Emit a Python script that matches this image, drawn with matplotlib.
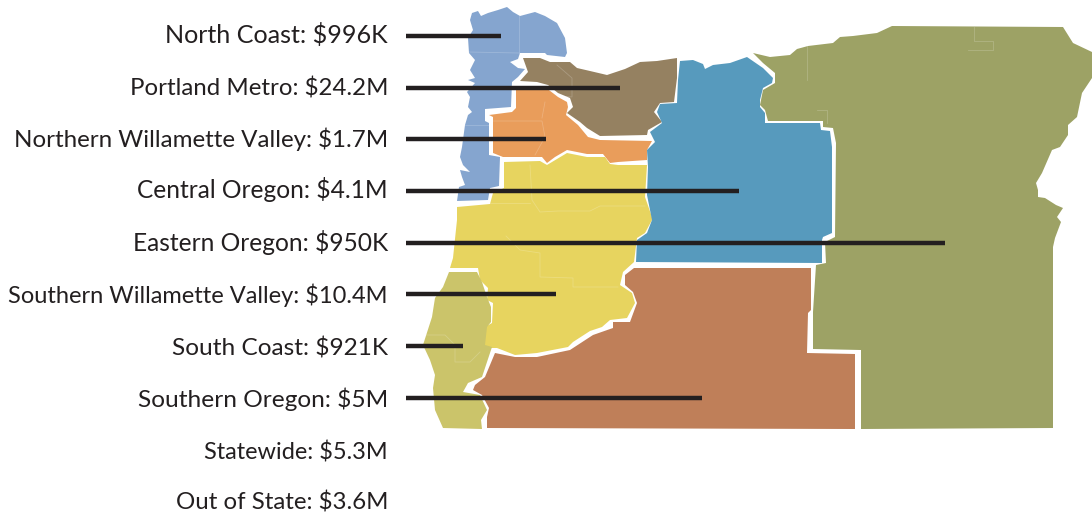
from matplotlib import pyplot as plt
from matplotlib.patches import Polygon

# region labels, top to bottom
labels = ['North Coast: $996K', 'Portland Metro: $24.2M', 'Northern Willamette Valley: $1.7M',
          'Central Oregon: $4.1M', 'Eastern Oregon: $950K', 'Southern Willamette Valley: $10.4M',
          'South Coast: $921K', 'Southern Oregon: $5M', 'Statewide: $5.3M', 'Out of State: $3.6M']
label_y = [43, 95, 147, 198, 251, 303, 355, 407, 459, 510]
label_size = [18.05, 17.3, 17.35, 17.65, 17.65, 17.05, 17.6, 17.55, 16.95, 17.3]

# leader lines (only the regions on the map have one)
line_y = [36, 88, 139, 191, 243, 294, 346, 398]
line_end = [501, 620, 546, 739, 945, 556, 463, 702]

# region outlines, in pixels
north_coast = [(465,7),(472,13),(478,11),(481,16),(488,13),(498,10),(507,7),(513,12),(520,16),(535,12),(545,16),
               (557,23),(565,38),(567,53),(565,57),(547,55),(545,53),(520,53),(518,59),(510,62),(518,68),
               (525,69),(518,77),(512,82),(511,107),(485,109),(485,121),(489,123),(489,155),(500,157),
               (499,186),(490,188),(488,200),(457,201),(459,187),(465,185),(462,177),(460,170),(470,172),
               (463,165),(460,157),(462,147),(465,125),(468,115),(472,112),(468,107),(470,97),(467,92),
               (475,83),(468,80),(475,78),(470,70),(475,60),(469,53),(468,38),(473,30),(470,20),(472,13)]
portland = [(523,58),(540,58),(550,62),(570,62),(577,68),(590,71),(607,75),(625,69),(640,62),(657,61),(677,58),(677,78),
            (674,102),(660,103),(654,112),(662,122),(648,130),(647,135),(600,136),(587,128),(580,122),
            (567,113),(573,107),(570,98),(558,93),(548,85),(537,82),(520,81),(528,72)]
north_will = [(516,86),(545,87),(558,97),(567,102),(568,107),(566,115),(578,125),(588,137),(600,140),
              (652,141),(647,150),(647,160),(618,162),(610,163),(603,154),(587,154),(567,150),(555,157),
              (547,163),(542,157),(503,157),(493,153),(493,117),(489,115),(512,112),(516,108)]
south_will = [(504,162),(540,161),(547,165),(567,153),(587,157),(605,157),(610,164),(618,165),(647,165),
              (645,197),(652,217),(652,220),(645,233),(637,238),(634,262),(623,272),(620,285),(632,293),
              (635,303),(627,318),(610,320),(602,327),(590,331),(573,342),(568,347),(537,353),(515,355),(497,348),
              (485,348),(485,327),(492,323),(493,303),(487,300),(488,288),(480,280),(478,268),(450,268),
              (453,258),(457,220),(457,207),(490,204),(493,193),(504,188)]
south_coast = [(449,272),(477,272),(482,282),(487,297),(491,307),(491,322),(487,327),(485,345),(492,347),
               (482,377),(468,383),(463,392),(480,395),(487,410),(481,420),(482,429),(443,428),(435,410),
               (433,388),(435,375),(430,360),(423,345),(432,317),(435,298),(443,287)]
south_oregon = [(634,268),(811,268),(811,310),(808,313),(807,353),(855,354),(855,429),(487,428),(487,417),
                (489,408),(482,395),(473,390),(475,385),(485,377),(495,353),(515,357),(537,357),(570,350),
                (593,335),(613,328),(613,322),(630,322),(637,303),(633,292),(625,285),(625,275)]
central = [(680,61),(693,60),(703,64),(705,69),(713,65),(730,63),(747,57),(763,68),(773,78),(772,83),
           (763,88),(760,100),(760,107),(765,113),(765,123),(820,123),(821,130),(830,131),(832,147),
           (832,233),(823,237),(822,240),(822,263),(636,262),(637,240),(647,233),(652,220),(647,195),
           (648,167),(647,150),(655,142),(650,132),(662,123),(657,112),(660,104),(677,103),(678,80)]
eastern = [(753,53),(770,57),(790,55),(797,49),(808,46),(833,43),(840,37),(853,36),(877,33),(892,26),
           (1063,27),(1073,43),(1092,52),(1092,78),(1082,93),(1077,117),(1068,125),(1068,135),(1060,147),
           (1052,150),(1042,173),(1036,183),(1038,190),(1038,197),(1045,198),(1056,205),(1063,208),
           (1057,217),(1061,222),(1058,230),(1055,238),(1053,247),(1053,428),(861,429),(861,350),(813,349),
           (813,312),(816,265),(826,263),(825,242),(835,237),(836,143),(833,128),(823,127),(823,121),
           (768,121),(765,110),(760,105),(763,90),(775,83),(775,73),(763,63)]

regions = [north_coast, portland, north_will, south_will, south_coast, south_oregon, central, eastern]
colors = ['#85a5cf', '#958161', '#e99d5b', '#e7d45f', '#cbc46a', '#bf7f59', '#579abd', '#9da265']

# faint county lines
county_lines = [[(519,16),(519,53)], [(468,52),(519,53)], [(465,125),(489,125)],
                [(557,65),(572,78),(572,97),(561,96)], [(493,121),(542,121),(545,137),(535,155)],
                [(545,102),(542,118)], [(530,165),(532,200),(540,212),(558,211),(590,211),(600,206),(645,206)],
                [(490,203),(530,203)], [(506,236),(520,250),(540,253),(540,277),(573,278),(573,287),(618,287)],
                [(423,335),(445,335),(455,345),(455,362),(470,362),(480,352)], [(807,46),(807,80)],
                [(974,27),(974,41),(993,41),(993,50),(968,50)], [(817,110),(827,110),(827,123)]]

fig = plt.figure(figsize=(10.92, 5.14), dpi=100)
ax = fig.add_axes([0, 0, 1, 1])
ax.set_xlim(0, 1092)
ax.set_ylim(514, 0)
ax.axis('off')

for pts, c in zip(regions, colors):
    ax.add_patch(Polygon(pts, closed=True, facecolor=c, edgecolor='none', zorder=1))

for seg in county_lines:
    ax.plot([p[0] for p in seg], [p[1] for p in seg], color='white', alpha=0.2, lw=0.6, zorder=2)

for y, end in zip(line_y, line_end):
    ax.plot([406, end], [y, y], color='#231f20', lw=3.2, solid_capstyle='butt', zorder=3)

for y, s, size in zip(label_y, labels, label_size):
    ax.text(388, y, s, ha='right', va='baseline', fontsize=size, family='Lato', color='#231f20')

fig.savefig('out.png', dpi=100)
